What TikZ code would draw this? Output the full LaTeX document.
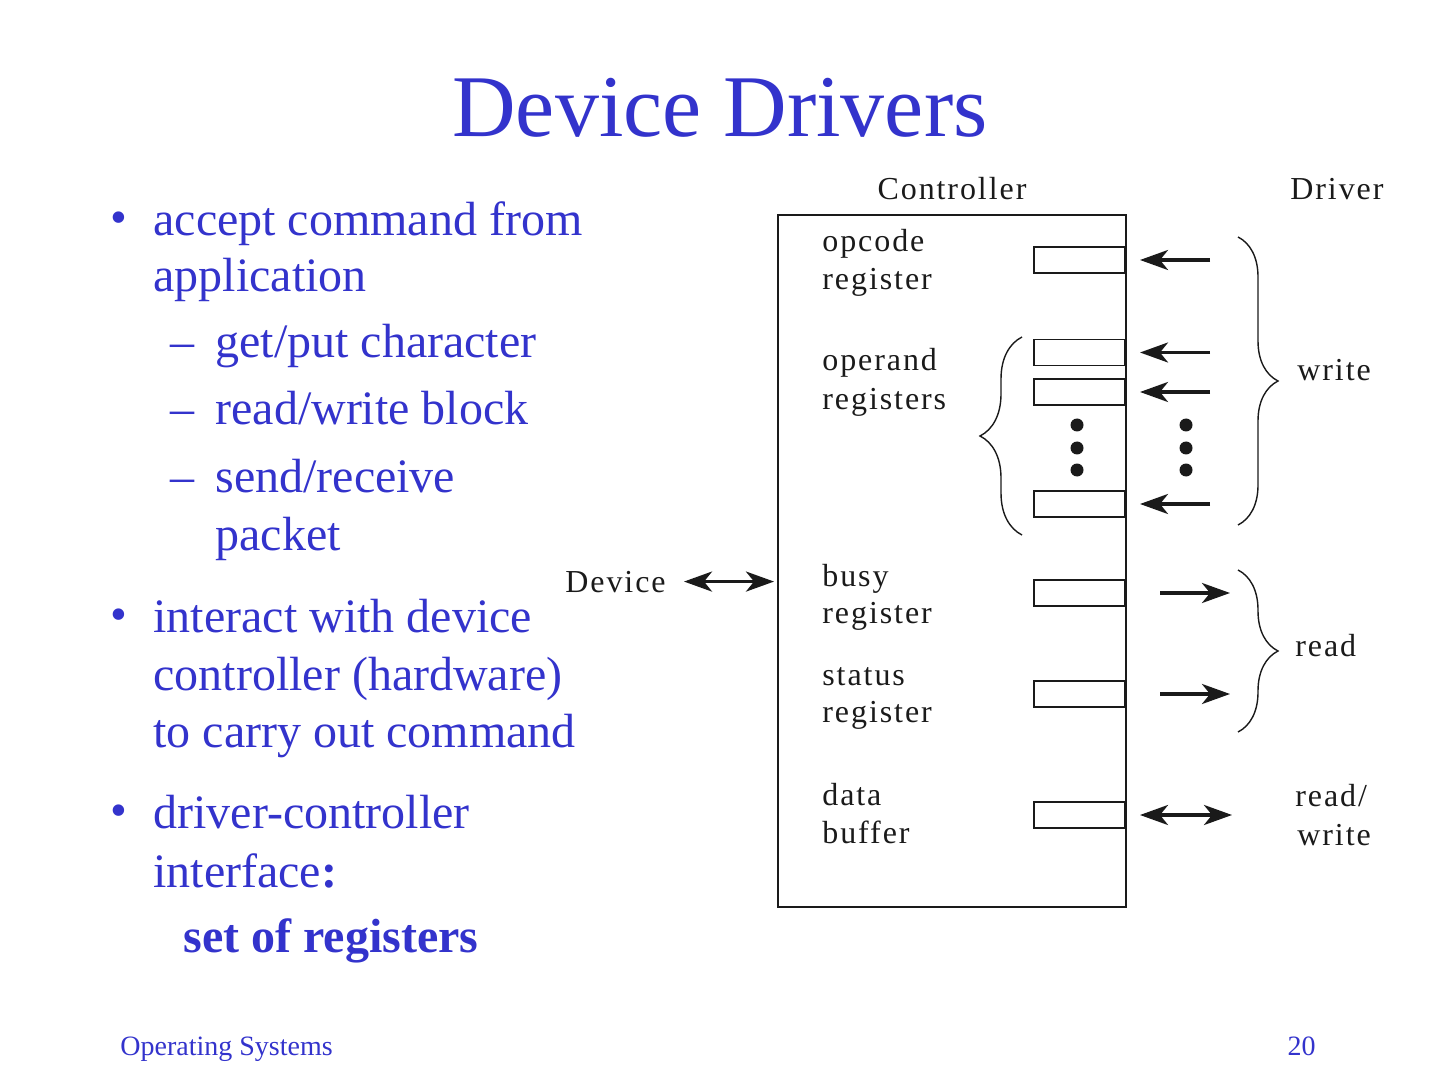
\documentclass[tikz,border=0pt]{standalone}
\usepackage{fontspec}
\setmainfont{Liberation Serif}
\newfontfamily\figfont[LetterSpace=6]{Liberation Serif}
\usepackage{xcolor}
\usepackage{tikz}
\usetikzlibrary{arrows.meta,positioning,decorations.pathreplacing}
\definecolor{slideblue}{HTML}{3333CC}
\definecolor{figink}{HTML}{1A1A1A}

\tikzset{
  body/.style={anchor=base west,inner sep=0pt,text=slideblue,font=\fontsize{24}{28}\selectfont},
  figtxt/.style={anchor=base west,inner sep=0pt,text=figink,font=\figfont\fontsize{16}{19}\selectfont},
  reg/.style={draw=figink,line width=0.8pt,minimum width=45.5pt,minimum height=13pt,inner sep=0pt,anchor=east},
  cmd/.style={figink,line width=1.7pt,-{Stealth[length=14pt,width=10pt,inset=4pt]}},
  cmd2/.style={figink,line width=1.7pt,{Stealth[length=14pt,width=10pt,inset=4pt]}-{Stealth[length=14pt,width=10pt,inset=4pt]}},
  grp/.style={figink,decorate,decoration={brace,amplitude=20pt},line width=0.7pt},
  dot/.style={circle,fill=figink,inner sep=0pt,minimum size=6.5pt}
}

\begin{document}
\begin{tikzpicture}[x=0.5pt,y=-0.5pt]
  \useasboundingbox (0,0) rectangle (1440,1080);
  % title
  \node[anchor=base,inner sep=0pt,text=slideblue,font=\fontsize{44}{50}\selectfont] (title) at (720,137) {Device Drivers};

  % bullet list
  \node[body] (bl1) at (110,234) {•};
  \node[body] (t1a) at (153,236) {accept command from};
  \node[body] (t1b) at (153,292) {application};
  \node[body] (d1) at (170,358) {–};
  \node[body] (s1) at (215,358) {get/put character};
  \node[body] (d2) at (170,425) {–};
  \node[body] (s2) at (215,425) {read/write block};
  \node[body] (d3) at (170,492) {–};
  \node[body] (s3a) at (215,492) {send/receive};
  \node[body] (s3b) at (215,550) {packet};
  \node[body] (bl2) at (110,630) {•};
  \node[body] (t2a) at (153,632) {interact with device};
  \node[body] (t2b) at (153,690) {controller (hardware)};
  \node[body] (t2c) at (153,747) {to carry out command};
  \node[body] (bl3) at (110,826) {•};
  \node[body] (t3a) at (153,828) {driver-controller};
  \node[body] (t3b) at (153,887) {interface\textbf{:}};
  \node[body,font=\fontsize{24}{28}\selectfont\bfseries] (t3c) at (183,952) {set of registers};

  % controller and its registers
  \node[draw=figink,line width=1pt,minimum width=174pt,minimum height=346pt,inner sep=0pt] (ctrl) at (952,561) {};
  \node[figtxt,anchor=base] (ctrllbl) at (952,200) {Controller};
  \node[figtxt] (drvlbl) at (1290,200) {Driver};
  \node[figtxt] (devlbl) at (565,592) {Device};

  \node[reg] (opc) at (1126,260) {};
  \node[reg] (opd1) at (1126,352.5) {};
  \node[reg] (opd2) at (1126,392) {};
  \node[reg] (opdn) at (1126,504) {};
  \node[reg] (busy) at (1126,593) {};
  \node[reg] (stat) at (1126,694) {};
  \node[reg] (data) at (1126,815) {};

  \node[figtxt] (opclbl) at (822,252) {opcode};
  \node[figtxt] (opclbl2) at (822,290) {register};
  \node[figtxt] (opdlbl) at (822,371) {operand};
  \node[figtxt] (opdlbl2) at (822,410) {registers};
  \node[figtxt] (busylbl) at (822,586) {busy};
  \node[figtxt] (busylbl2) at (822,623) {register};
  \node[figtxt] (statlbl) at (822,685) {status};
  \node[figtxt] (statlbl2) at (822,722) {register};
  \node[figtxt] (datalbl) at (822,805) {data};
  \node[figtxt] (datalbl2) at (822,843) {buffer};

  % dots for the omitted operand registers
  \node[dot] (ld1) at (1077,425) {};
  \node[dot] (ld2) at (1077,448) {};
  \node[dot] (ld3) at (1077,470) {};
  \node[dot] (rd1) at (1186,425) {};
  \node[dot] (rd2) at (1186,448) {};
  \node[dot] (rd3) at (1186,470) {};

  % driver side
  \coordinate (w1) at (1210,260);
  \coordinate (w2) at (1210,352.5);
  \coordinate (w3) at (1210,392);
  \coordinate (w4) at (1210,504);
  \coordinate (r1) at (1230,593);
  \coordinate (r2) at (1230,694);
  \coordinate (rw) at (1232,815);
  \draw[cmd,shorten >=7pt] (w1) -- (opc.east);
  \draw[cmd,shorten >=7pt] (w2) -- (opd1.east);
  \draw[cmd,shorten >=7pt] (w3) -- (opd2.east);
  \draw[cmd,shorten >=7pt] (w4) -- (opdn.east);
  \draw[cmd,shorten <=17pt] (busy.east) -- (r1);
  \draw[cmd,shorten <=17pt] (stat.east) -- (r2);
  \draw[cmd2,shorten <=7pt] (data.east) -- (rw);
  \draw[cmd2,shorten <=9pt,shorten >=1.5pt] (devlbl.east) -- (devlbl.east -| ctrl.west);

  % braces
  \coordinate (wtop) at (1238,237);
  \coordinate (wbot) at (1238,525);
  \coordinate (otop) at (1022,337);
  \coordinate (obot) at (1022,535);
  \coordinate (rtop) at (1238,570);
  \coordinate (rbot) at (1238,732);
  \draw[grp] (wtop) -- (wbot);
  \draw[grp,decoration={amplitude=21pt}] (obot) -- (otop);
  \draw[grp] (rtop) -- (rbot);
  \node[figtxt] (wrlbl) at (1297,381) {write};
  \node[figtxt] (rdlbl) at (1295,656) {read};
  \node[figtxt] (rwlbl) at (1295,806) {read/};
  \node[figtxt] (rwlbl2) at (1297,845) {write};

  % footer
  \node[anchor=base west,inner sep=0pt,text=slideblue,font=\fontsize{14}{16}\selectfont] (foot) at (120,1055) {Operating Systems};
  \node[anchor=base east,inner sep=0pt,text=slideblue,font=\fontsize{14}{16}\selectfont] (pg) at (1316,1055) {20};
\end{tikzpicture}
\end{document}
